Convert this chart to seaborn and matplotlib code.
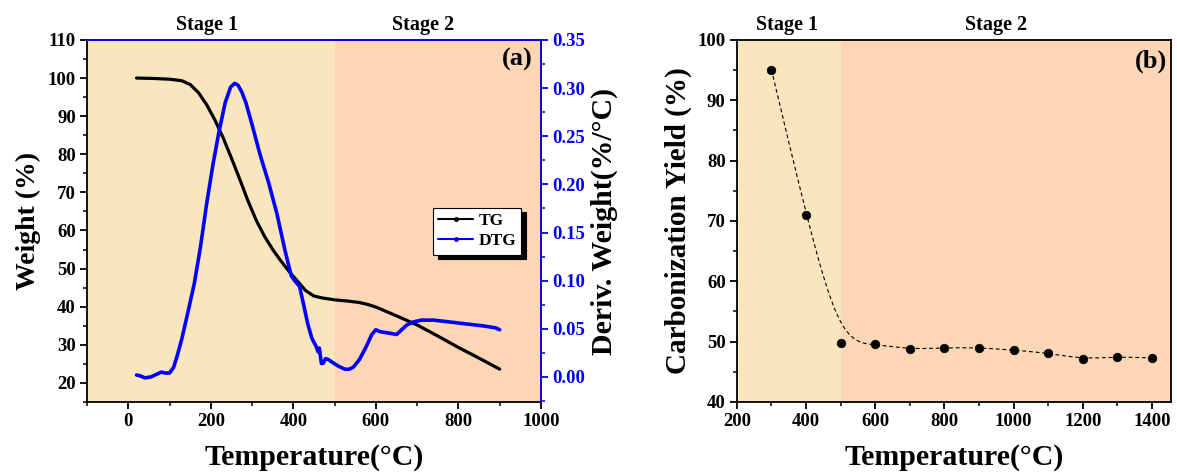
import numpy as np
import pandas as pd
import seaborn as sns
import matplotlib.pyplot as plt
from matplotlib.lines import Line2D
from matplotlib.ticker import MultipleLocator

# TG / DTG curves, panel (a)
tg_temp = [20, 60, 100, 130, 150, 170, 190, 210, 230, 250, 270, 290, 310, 330, 350, 370,
           390, 410, 430, 450, 470, 500, 530, 560, 580, 600, 650, 700, 750, 800, 850, 900]
tg_weight = [100, 99.9, 99.7, 99.3, 98.3, 96.2, 93.0, 89.0, 84.3, 79.0, 73.5, 67.8, 62.7, 58.5, 55.0, 52.0,
             49.2, 46.7, 44.2, 42.8, 42.3, 41.8, 41.5, 41.1, 40.6, 39.9, 37.6, 35.2, 32.3, 29.3, 26.5, 23.6]

dtg_temp = [20, 30, 40, 55, 70, 80, 90, 100, 110, 120, 130, 145, 160, 175, 190, 205, 220, 235, 248, 258,
            266, 275, 285, 300, 320, 340, 360, 380, 395, 405, 415, 425, 435, 445, 455, 460, 463, 468, 472,
            478, 485, 495, 510, 525, 535, 545, 560, 575, 590, 600, 610, 625, 640, 650, 660, 675, 690, 710,
            740, 780, 820, 860, 890, 900]
dtg_value = [0.002, 0.001, -0.001, 0.000, 0.003, 0.005, 0.004, 0.004, 0.010, 0.024, 0.040, 0.068, 0.097,
             0.135, 0.180, 0.220, 0.255, 0.285, 0.301, 0.305, 0.303, 0.296, 0.285, 0.262, 0.230, 0.202,
             0.170, 0.131, 0.105, 0.099, 0.094, 0.075, 0.055, 0.040, 0.032, 0.026, 0.030, 0.014, 0.014,
             0.019, 0.018, 0.015, 0.011, 0.008, 0.008, 0.010, 0.018, 0.030, 0.044, 0.049, 0.047, 0.046,
             0.045, 0.044, 0.048, 0.054, 0.057, 0.059, 0.059, 0.057, 0.055, 0.053, 0.051, 0.049]

# carbonization yield, panel (b)
cy_temp = [300, 400, 500, 600, 700, 800, 900, 1000, 1100, 1200, 1300, 1400]
cy_yield = [95.1, 71.0, 49.8, 49.6, 48.7, 49.0, 49.0, 48.6, 48.1, 47.1, 47.5, 47.3]

stage_labels = ['Stage 1', 'Stage 2']
col_stage1 = '#FAE6BE'
col_stage2 = '#FDD6B6'

sns.set_theme(style='ticks')
plt.rcParams['font.family'] = ['Liberation Serif', 'DejaVu Serif']
plt.rcParams['font.weight'] = 'bold'
plt.rcParams['axes.labelweight'] = 'bold'
plt.rcParams['text.color'] = 'black'
plt.rcParams['axes.labelcolor'] = 'black'
plt.rcParams['xtick.color'] = 'black'
plt.rcParams['ytick.color'] = 'black'

TICK_FS = 13.5
LABEL_FS = 21.5


def bspline(xs, ys, n=40):
    # cubic B-spline with the data as control points (Origin "B-Spline" connect)
    px = [xs[0]] * 2 + list(xs) + [xs[-1]] * 2
    py = [ys[0]] * 2 + list(ys) + [ys[-1]] * 2
    t = np.linspace(0, 1, n)
    b0 = (1 - t) ** 3 / 6
    b1 = (3 * t**3 - 6 * t**2 + 4) / 6
    b2 = (-3 * t**3 + 3 * t**2 + 3 * t + 1) / 6
    b3 = t**3 / 6
    ox, oy = [], []
    for i in range(len(px) - 3):
        ox.extend(b0 * px[i] + b1 * px[i + 1] + b2 * px[i + 2] + b3 * px[i + 3])
        oy.extend(b0 * py[i] + b1 * py[i + 1] + b2 * py[i + 2] + b3 * py[i + 3])
    return np.array(ox), np.array(oy)


def style_ticks(ax, color='black'):
    ax.tick_params(which='major', direction='out', length=5, width=1.3, labelsize=TICK_FS,
                   colors=color, pad=3)
    ax.tick_params(which='minor', direction='out', length=3, width=1.1, colors=color)
    for lab in ax.get_xticklabels() + ax.get_yticklabels():
        lab.set_fontweight('bold')


fig = plt.figure(figsize=(11.77, 4.74), dpi=100)
fig.patch.set_facecolor('white')

# ---------- panel (a) ----------
ax = fig.add_axes([0.0739, 0.152, 0.3857, 0.7637])
ax.axvspan(-100, 500, color=col_stage1, lw=0, zorder=0)
ax.axvspan(500, 1000, color=col_stage2, lw=0, zorder=0)
sns.lineplot(x=tg_temp, y=tg_weight, ax=ax, color='black', lw=2.3, zorder=3)
ax.set_xlim(-100, 1000)
ax.set_ylim(15, 110)
ax.xaxis.set_major_locator(MultipleLocator(200))
ax.xaxis.set_minor_locator(MultipleLocator(100))
ax.yaxis.set_major_locator(MultipleLocator(10))
ax.yaxis.set_minor_locator(MultipleLocator(5))
ax.set_xlabel('Temperature(°C)', fontsize=LABEL_FS, fontweight='bold', labelpad=10)
ax.set_ylabel('Weight (%)', fontsize=20, fontweight='bold', labelpad=5)
style_ticks(ax)
ax.tick_params(right=False, top=False)
for s in ['left', 'bottom']:
    ax.spines[s].set_linewidth(1.3)
    ax.spines[s].set_color('black')

ax2 = ax.twinx()
sns.lineplot(x=dtg_temp, y=dtg_value, ax=ax2, color='#0000FF', lw=2.6, zorder=3)
ax2.set_ylim(-0.026, 0.35)
ax2.yaxis.set_major_locator(MultipleLocator(0.05))
ax2.yaxis.set_minor_locator(MultipleLocator(0.025))
ax2.yaxis.set_major_formatter(plt.FormatStrFormatter('%.2f'))
ax2.set_ylabel('Deriv. Weight(%/°C)', fontsize=LABEL_FS, fontweight='bold', color='black', labelpad=4)
style_ticks(ax2, color='#0000FF')
ax2.tick_params(axis='y', labelcolor='#0000FF')
for s in ['top', 'right']:
    ax2.spines[s].set_linewidth(1.3)
    ax2.spines[s].set_color('#0000FF')
ax2.spines['left'].set_visible(False)
ax2.spines['bottom'].set_visible(False)

ax.text(190, 111.3, stage_labels[0], ha='center', va='bottom', fontsize=14.5, fontweight='bold')
ax.text(715, 111.3, stage_labels[1], ha='center', va='bottom', fontsize=14.5, fontweight='bold')
ax2.text(0.982, 0.945, '(a)', transform=ax2.transAxes, ha='right', va='center',
         fontsize=19, fontweight='bold')

handles = [Line2D([], [], color='black', lw=1.5, marker='o', markersize=2.5),
           Line2D([], [], color='#0000FF', lw=1.5, marker='o', markersize=2.5)]
leg = ax2.legend(handles, ['TG', 'DTG'], loc='upper right', bbox_to_anchor=(0.976, 0.561),
                 fancybox=False, framealpha=1, edgecolor='black', handlelength=2.0,
                 handletextpad=0.3, borderpad=0.3, labelspacing=0.25,
                 prop={'size': 12.5, 'weight': 'bold'},
                 shadow={'color': 'black', 'alpha': 1, 'ox': 3.6, 'oy': -3.4})
leg.get_frame().set_linewidth(0.8)

# ---------- panel (b) ----------
bx = fig.add_axes([0.626, 0.152, 0.369, 0.7637])
bx.axvspan(200, 500, color=col_stage1, lw=0, zorder=0)
bx.axvspan(500, 1455, color=col_stage2, lw=0, zorder=0)
sx, sy = bspline(cy_temp, cy_yield)
bx.plot(sx, sy, color='black', lw=0.8, ls=(0, (3.5, 2.5)), zorder=2)
df_b = pd.DataFrame({'Temperature': cy_temp, 'Yield': cy_yield})
sns.scatterplot(data=df_b, x='Temperature', y='Yield', ax=bx, color='black', s=38,
                edgecolor='black', linewidth=0.5, zorder=3)
bx.set_xlim(200, 1455)
bx.set_ylim(40, 100)
bx.xaxis.set_major_locator(MultipleLocator(200))
bx.xaxis.set_minor_locator(MultipleLocator(100))
bx.yaxis.set_major_locator(MultipleLocator(10))
bx.yaxis.set_minor_locator(MultipleLocator(5))
bx.set_xlabel('Temperature(°C)', fontsize=LABEL_FS, fontweight='bold', labelpad=10)
bx.set_ylabel('Carbonization Yield (%)', fontsize=21, fontweight='bold', labelpad=4)
style_ticks(bx)
bx.tick_params(right=False, top=False)
for s in bx.spines.values():
    s.set_linewidth(1.3)
    s.set_color('black')

bx.text(345, 100.9, stage_labels[0], ha='center', va='bottom', fontsize=14.5, fontweight='bold')
bx.text(950, 100.9, stage_labels[1], ha='center', va='bottom', fontsize=14.5, fontweight='bold')
bx.text(0.991, 0.94, '(b)', transform=bx.transAxes, ha='right', va='center',
        fontsize=19, fontweight='bold')

fig.savefig('out.png', dpi=100, facecolor='white')
